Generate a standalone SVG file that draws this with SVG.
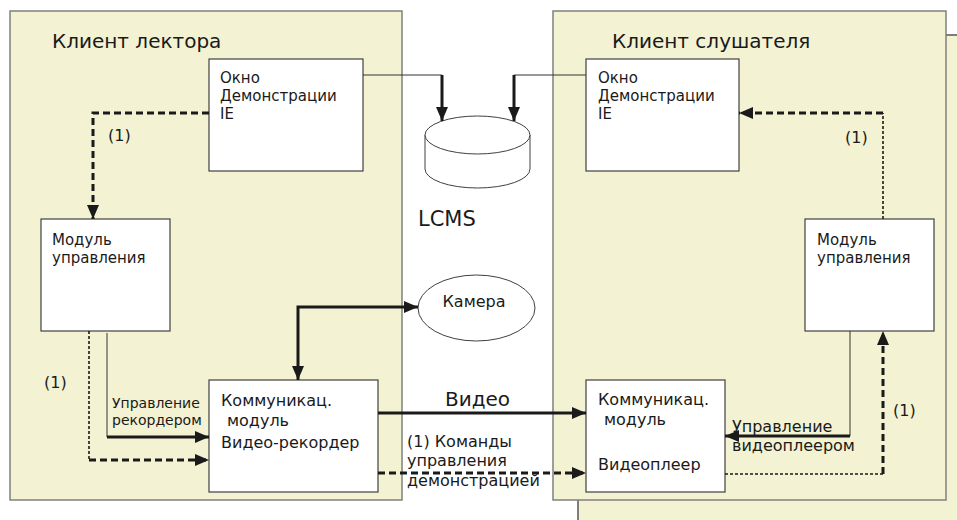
<svg xmlns="http://www.w3.org/2000/svg" width="957" height="520" viewBox="0 0 957 520">
  <style>
    .panel { fill: #f3f2d3; stroke: #808080; stroke-width: 1.5; }
    .box { fill: #ffffff; stroke: #404040; stroke-width: 1.2; }
    .shape { fill: #ffffff; stroke: #404040; stroke-width: 1; }
    text { font-family: "DejaVu Sans", "Liberation Sans", sans-serif; fill: #1a1a1a; }
    .title { font-size: 20px; }
    .t16 { font-size: 16px; }
    .t15 { font-size: 15px; }
    .t14 { font-size: 14px; }
    .big { font-size: 21px; }
    .thin { fill: none; stroke: #333; stroke-width: 1; }
    .thick { fill: none; stroke: #1a1a1a; stroke-width: 3; }
    .dthick { fill: none; stroke: #1a1a1a; stroke-width: 3; stroke-dasharray: 7 4; }
    .dthin { fill: none; stroke: #1a1a1a; stroke-width: 1.6; stroke-dasharray: 3 2; }
  </style>
  <defs>
    <marker id="arrow" markerUnits="userSpaceOnUse" markerWidth="14" markerHeight="14" viewBox="0 0 14 14" refX="14" refY="7" orient="auto-start-reverse">
      <path d="M0,1 L14,7 L0,13 z" fill="#1a1a1a"/>
    </marker>
  </defs>

  <rect width="957" height="520" fill="#ffffff"/>

  <!-- back sheet behind the listener panel -->
  <g id="sheet">
    <rect x="578" y="35" width="390" height="500" fill="#f3f2d3"/>
    <path d="M578,520 V35 H957" fill="none" stroke="#555" stroke-width="1.5"/>
  </g>

  <!-- lecturer client -->
  <g id="lecturer">
    <rect class="panel" x="10" y="11" width="392" height="489"/>
    <text class="title" x="52" y="48">Клиент лектора</text>
  </g>

  <!-- listener client -->
  <g id="listener">
    <rect class="panel" x="553" y="11" width="393" height="489"/>
    <text class="title" x="612" y="48">Клиент слушателя</text>
  </g>

  <g id="lect-window">
    <rect class="box" x="209" y="59" width="154" height="112"/>
    <text class="t15" x="220" y="83">Окно</text>
    <text class="t15" x="220" y="101">Демонстрации</text>
    <text class="t15" x="220" y="119">IE</text>
  </g>

  <g id="lect-control">
    <rect class="box" x="41" y="219" width="129" height="112"/>
    <text class="t15" x="52" y="245">Модуль</text>
    <text class="t15" x="52" y="263">управления</text>
  </g>

  <g id="lect-comm">
    <rect class="box" x="209" y="380" width="169" height="112"/>
    <text class="t16" x="221" y="406">Коммуникац.</text>
    <text class="t16" x="227" y="426">модуль</text>
    <text class="t16" x="221" y="448">Видео-рекордер</text>
  </g>

  <g id="list-window">
    <rect class="box" x="586" y="59" width="153" height="112"/>
    <text class="t15" x="598" y="83">Окно</text>
    <text class="t15" x="598" y="101">Демонстрации</text>
    <text class="t15" x="598" y="119">IE</text>
  </g>

  <g id="list-control">
    <rect class="box" x="805" y="219" width="129" height="112"/>
    <text class="t15" x="817" y="245">Модуль</text>
    <text class="t15" x="817" y="263">управления</text>
  </g>

  <g id="list-comm">
    <rect class="box" x="586" y="380" width="139" height="112"/>
    <text class="t16" x="598" y="405">Коммуникац.</text>
    <text class="t16" x="604" y="425">модуль</text>
    <text class="t16" x="598" y="470">Видеоплеер</text>
  </g>

  <g id="lcms">
    <path class="shape" d="M425,135 V169 A52.5,19 0 0 0 530,169 V135"/>
    <ellipse class="shape" cx="477.5" cy="135" rx="52.5" ry="19"/>
    <text class="big" x="418" y="226">LCMS</text>
  </g>

  <g id="camera">
    <ellipse class="shape" cx="476.5" cy="308" rx="58.5" ry="33"/>
    <text class="t16" x="474" y="307" text-anchor="middle">Камера</text>
  </g>

  <g id="connectors">
    <!-- windows to LCMS -->
    <path class="thin" d="M363,75 H442"/>
    <path class="thick" d="M442,75 V121" marker-end="url(#arrow)"/>
    <path class="thin" d="M586,75 H514"/>
    <path class="thick" d="M514,75 V121" marker-end="url(#arrow)"/>

    <!-- lecturer side -->
    <path class="dthick" d="M209,113 H93 V219" marker-end="url(#arrow)"/>
    <path class="thin" d="M107,333 V437"/>
    <path class="thick" d="M107,437 H209" marker-end="url(#arrow)"/>
    <path class="dthin" d="M89,331 V460"/>
    <path class="dthick" d="M89,460 H209" marker-end="url(#arrow)"/>
    <path class="thick" d="M298,380 V307 H418" marker-start="url(#arrow)" marker-end="url(#arrow)"/>

    <!-- between clients -->
    <path class="thick" d="M378,413 H586" marker-end="url(#arrow)"/>
    <path class="dthick" d="M378,473 H586" marker-end="url(#arrow)"/>

    <!-- listener side -->
    <path class="dthin" d="M725,474 H883"/>
    <path class="dthick" d="M883,474 V331" marker-end="url(#arrow)"/>
    <path class="thin" d="M850,331 V436"/>
    <path class="thick" d="M850,436 H725" marker-end="url(#arrow)"/>
    <path class="dthin" d="M883,219 V113"/>
    <path class="dthick" d="M883,113 H739" marker-end="url(#arrow)"/>
  </g>

  <g id="labels">
    <text class="t16" x="108" y="141">(1)</text>
    <text class="t16" x="44" y="388">(1)</text>
    <text class="t14" x="112" y="408">Управление</text>
    <text class="t14" x="112" y="425">рекордером</text>
    <text class="title" x="445" y="406">Видео</text>
    <text class="t16" x="407" y="447">(1) Команды</text>
    <text class="t16" x="407" y="466">управления</text>
    <text class="t16" x="407" y="486">демонстрацией</text>
    <text class="t16" x="732" y="432">Управление</text>
    <text class="t16" x="732" y="451">видеоплеером</text>
    <text class="t16" x="893" y="416">(1)</text>
    <text class="t16" x="845" y="143">(1)</text>
  </g>
</svg>
